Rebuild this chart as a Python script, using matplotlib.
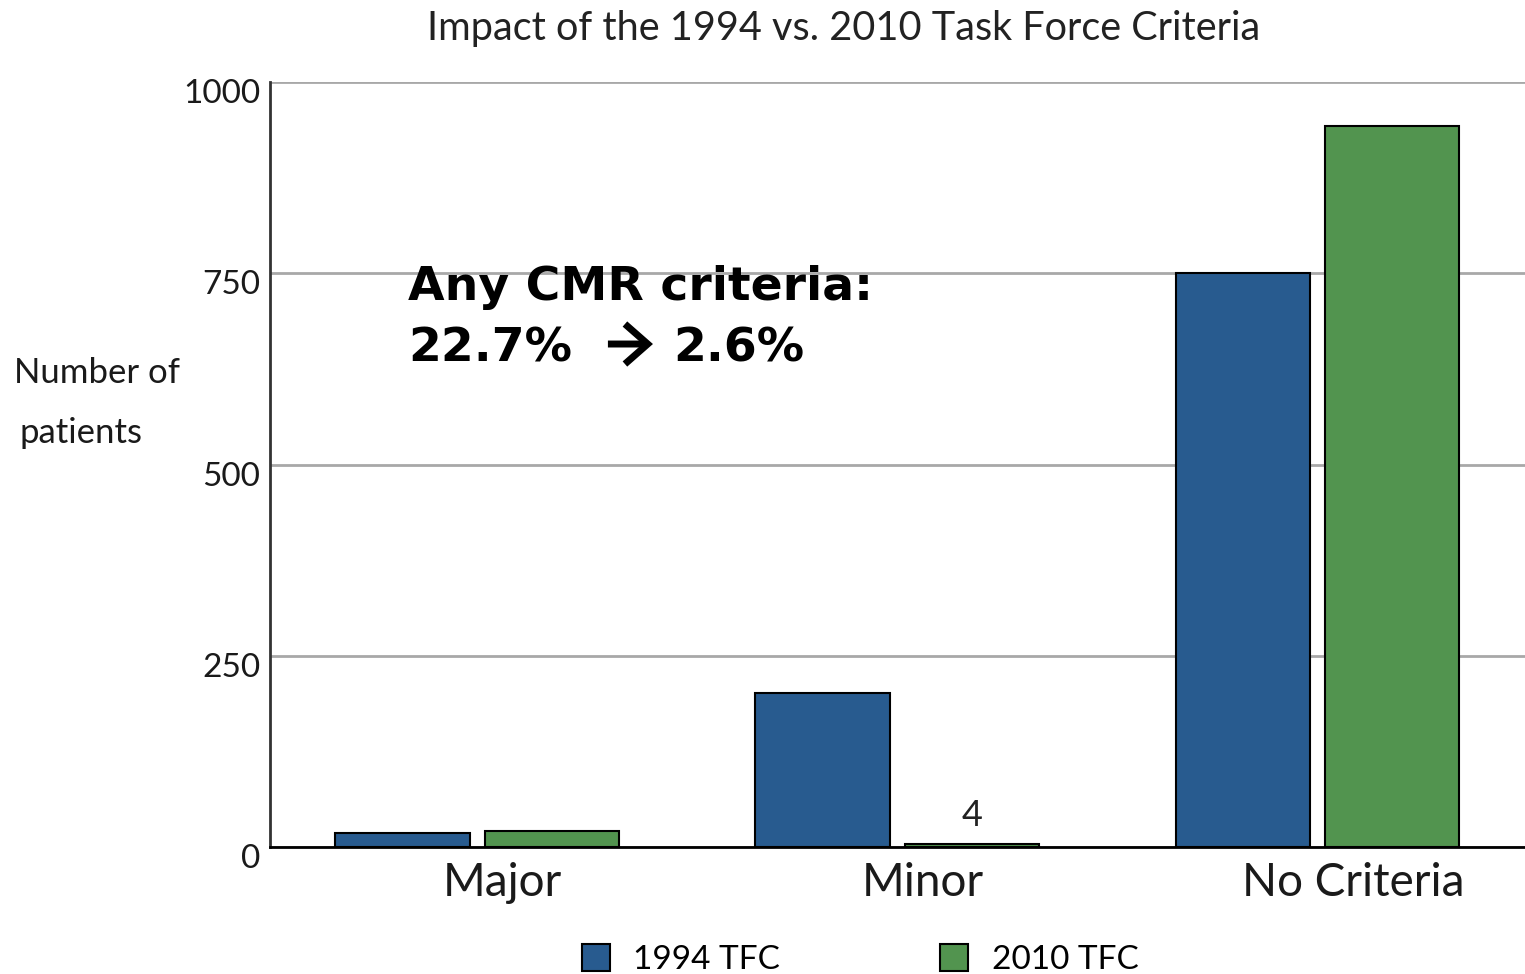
import numpy as np
import matplotlib.pyplot as plt
from matplotlib.transforms import ScaledTranslation

plt.rcParams['font.family'] = ['Lato', 'DejaVu Sans']

# Datos
categorias = ['Major', 'Minor', 'No Criteria']
tfc_1994 = [18, 201, 750]
tfc_2010 = [21, 4, 942]
series = ['1994 TFC', '2010 TFC']
yticks = [0, 250, 500, 750, 1000]

azul = '#285b8f'
verde = '#52944f'

fig = plt.figure(figsize=(15.25, 9.74), dpi=100)
ax = fig.add_axes([0.177, 0.1304, 0.823, 0.7854])

x = np.arange(len(categorias))
ancho = 0.32
sep = 0.178
b1 = ax.bar(x - sep, tfc_1994, ancho, color=azul, edgecolor='black', linewidth=1.5, zorder=3, label=series[0])
b2 = ax.bar(x + sep, tfc_2010, ancho, color=verde, edgecolor='black', linewidth=1.5, zorder=3, label=series[1])

# etiqueta del valor pequeño
ax.text(x[1] + sep, tfc_2010[1] + 15, str(tfc_2010[1]), ha='center', va='bottom', fontsize=26, color='#222222')

ax.set_xlim(-0.494, 2.494)
ax.set_ylim(0, 1000)
ax.set_yticks(yticks)
ax.set_yticklabels([str(t) for t in yticks], fontsize=24, color='#1a1a1a')
ax.set_xticks(x + np.array([0.06, 0.06, 0.085]))
ax.set_xticklabels(categorias, fontsize=33, color='#1a1a1a')
ax.tick_params(axis='both', length=0)
ax.tick_params(axis='y', pad=7)
ax.tick_params(axis='x', pad=11)

# bajar un poco los números del eje y
desplazar = ScaledTranslation(0, -9 / 100, fig.dpi_scale_trans)
for lab in ax.get_yticklabels():
    lab.set_transform(lab.get_transform() + desplazar)

ax.grid(axis='y', color='#a8a8a8', linewidth=2, zorder=0)
for s in ['top', 'right']:
    ax.spines[s].set_visible(False)
ax.spines['left'].set_color('#333333')
ax.spines['left'].set_linewidth(2)
ax.spines['bottom'].set_color('black')
ax.spines['bottom'].set_linewidth(2)
ax.spines['bottom'].set_zorder(4)

fig.text(0.553, 0.971, 'Impact of the 1994 vs. 2010 Task Force Criteria', ha='center', va='center',
         fontsize=28.5, color='#222222')
fig.text(0.009, 0.617, 'Number of', ha='left', va='center', fontsize=25, color='#1a1a1a')
fig.text(0.013, 0.555, 'patients', ha='left', va='center', fontsize=25, color='#1a1a1a')

# recuadro de texto con el porcentaje
negrita = dict(transform=ax.transAxes, fontsize=34, fontweight='bold', family='DejaVu Sans',
               color='black', va='baseline')
ax.text(0.11, 0.715, 'Any CMR criteria:', ha='left', **negrita)
ax.text(0.11, 0.634, '22.7%', ha='left', **negrita)
ax.text(0.3211, 0.634, '2.6%', ha='left', **negrita)
ax.annotate('', xy=(0.3052, 0.6575), xytext=(0.2693, 0.6575), xycoords='axes fraction',
            textcoords='axes fraction',
            arrowprops=dict(arrowstyle='->, head_length=0.41, head_width=0.36', lw=5, color='black',
                            mutation_scale=40, shrinkA=0, shrinkB=0, joinstyle='miter', capstyle='butt'))

fig.legend(handles=[b1, b2], loc='center', bbox_to_anchor=(0.564, 0.015), ncol=2, frameon=False,
           fontsize=24, handlelength=0.85, handleheight=0.85, handletextpad=0.7, columnspacing=4.8)

plt.savefig('out.png', dpi=100)
